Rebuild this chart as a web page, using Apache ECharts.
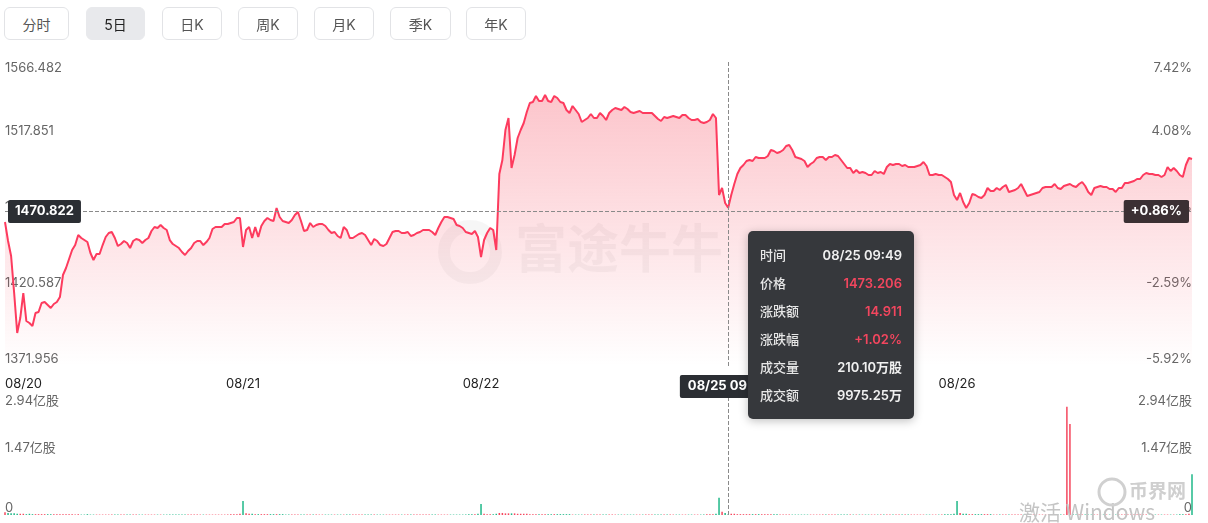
<!DOCTYPE html>
<html><head><meta charset="utf-8">
<script src="https://cdn.jsdelivr.net/npm/echarts@6/dist/echarts.min.js"></script>
<style>
html,body{margin:0;padding:0;background:#fff;width:1208px;height:523px;overflow:hidden;font-family:Inter,'Noto Sans CJK SC',sans-serif;}
#chart{position:absolute;left:0;top:0;width:1208px;height:523px;}
.tab{position:absolute;top:7px;height:33px;box-sizing:border-box;border:1px solid #e2e3e6;border-radius:6px;background:#fff;font-size:14px;color:#555;display:flex;align-items:center;justify-content:center;z-index:5;font-family:Inter,'Noto Sans CJK SC',sans-serif;}
.tab.active{background:#e8e9ec;border-color:#e8e9ec;color:#222;}
</style></head>
<body>
<div id="chart"></div>
<div id="tabs"></div>
<script>
// ---------- data ----------
const tabLabels = ['分时','5日','日K','周K','月K','季K','年K'];
const days = ['08/20','08/21','08/22','08/25','08/26'];
const prevClose = 1458.295;
const leftTicks = [1371.956, 1420.587, 1469.220, 1517.851, 1566.482];
const volTicks = [0, 1.47, 2.94];

const p0820 = [1464.09,1451.93,1442.34,1418.66,1393.10,1402.66,1418.66,1400.74,1399.46,1397.54,
1405.86,1406.50,1412.26,1412.90,1410.98,1409.06,1411.62,1412.90,1416.10,1430.18,
1434.66,1440.42,1446.17,1449.37,1455.77,1453.85,1452.57,1451.29,1444.26,1439.78,
1443.62,1443.62,1449.37,1454.49,1457.05,1457.69,1453.85,1448.73,1450.01,1451.93,
1450.65,1447.45,1451.93,1453.21,1452.57,1450.65,1452.57,1453.85,1458.33,1460.89,
1460.25,1462.17,1460.25,1458.97,1452.57,1450.01,1448.73,1447.45,1444.90,1442.98,
1445.54,1447.45,1450.65,1451.93,1451.93,1449.37,1451.29,1453.85,1459.61,1460.89,
1460.89,1460.89,1462.81,1462.81,1463.45,1464.09,1466.65,1466.65];
const p0821 = [1448.09,1458.97,1460.89,1453.85,1460.89,1454.49,1461.53,1464.73,1466.65,1465.37,
1464.73,1473.05,1467.29,1464.73,1464.09,1463.45,1465.37,1468.57,1470.49,1464.73,
1458.33,1458.97,1463.45,1460.89,1462.17,1462.81,1462.81,1461.53,1458.97,1457.05,
1457.69,1455.13,1453.85,1460.89,1458.97,1453.85,1453.85,1455.13,1456.41,1457.05,
1455.77,1452.57,1449.37,1453.21,1451.93,1449.37,1448.73,1450.01,1453.85,1457.69,
1458.33,1458.33,1457.05,1457.05,1457.69,1455.13,1455.77,1457.05,1457.69,1458.97,
1458.97,1458.97,1457.69,1455.77,1460.25,1464.09,1467.29,1467.29,1466.65,1466.01,
1462.17,1461.53,1460.25,1457.69,1457.05,1456.41,1458.33,1454.49];
const p0822 = [1441.70,1452.57,1457.05,1460.25,1458.97,1446.17,1494.81,1503.77,1522.96,1530.64,
1498.65,1506.97,1517.84,1522.96,1527.44,1534.48,1540.24,1540.88,1544.72,1541.52,
1541.52,1545.36,1541.52,1540.88,1544.72,1543.44,1540.88,1540.24,1535.76,1533.84,
1538.32,1535.76,1533.20,1528.08,1529.36,1530.64,1533.20,1530.64,1530.64,1533.84,
1531.92,1529.36,1533.84,1535.76,1537.04,1536.40,1535.76,1537.68,1536.40,1534.48,
1533.84,1534.48,1535.12,1533.84,1533.84,1533.84,1533.84,1531.92,1530.00,1528.72,
1531.28,1530.64,1531.28,1531.92,1531.28,1530.64,1532.56,1532.56,1530.64,1529.36,
1529.36,1530.00,1528.08,1527.44,1528.08,1529.36,1533.20,1530.64];
const p0825 = [1481.37,1485.85,1476.25,1473.206,1481.37,1488.41,1494.81,1498.65,1500.57,1503.13,
1503.77,1503.13,1505.69,1505.05,1505.05,1505.05,1506.33,1510.16,1509.53,1508.25,
1508.89,1510.16,1512.72,1513.36,1510.16,1505.69,1505.05,1504.41,1503.13,1499.29,
1501.21,1502.49,1505.05,1505.69,1505.69,1503.77,1505.69,1505.69,1506.97,1506.33,
1503.77,1501.21,1498.65,1498.65,1495.45,1497.37,1495.45,1496.09,1495.45,1494.17,
1494.17,1496.73,1495.45,1496.09,1494.81,1499.29,1501.21,1500.57,1501.21,1501.21,
1499.93,1500.57,1499.29,1499.29,1499.29,1499.93,1500.57,1502.49,1499.93,1494.17,
1494.17,1494.81,1494.17,1494.17,1492.89,1491.61,1489.69,1481.37];
const p0826 = [1478.17,1482.65,1476.89,1473.05,1476.25,1482.01,1481.37,1480.09,1479.45,1481.37,
1485.85,1483.93,1483.93,1485.85,1484.57,1486.49,1487.77,1483.29,1483.93,1484.57,
1485.85,1488.41,1484.57,1480.73,1481.37,1482.01,1482.65,1483.29,1485.85,1486.49,
1486.49,1486.49,1488.41,1485.85,1485.21,1487.13,1487.77,1488.41,1487.13,1486.49,
1488.41,1489.69,1487.13,1483.29,1481.37,1485.85,1486.49,1487.13,1486.49,1486.49,
1485.21,1485.21,1483.29,1485.85,1485.85,1489.05,1489.05,1489.69,1490.33,1491.61,
1491.61,1494.17,1495.45,1494.81,1494.81,1494.17,1494.17,1492.89,1494.17,1499.29,
1496.73,1498.65,1496.73,1494.17,1492.89,1500.57,1505.05,1504.41];

// volume, 亿股
const v0820 = [0.07,0.05,0.04,0.04,0.03,0.03,0.03,0.02,0.03,0.02,
0.02,0.02,0.02,0.02,0.02,0.02,0.02,0.02,0.02,0.02,
0.02,0.02,0.02,0.01,0.02,0.01,0.01,0.02,0.01,0.01,
0.01,0.01,0.01,0.01,0.01,0.01,0.01,0.01,0.01,0.01,
0.01,0.01,0.01,0.01,0.01,0.01,0.01,0.01,0.01,0.01,
0.01,0.01,0.01,0.01,0.01,0.01,0.01,0.01,0.01,0.01,
0.01,0.01,0.01,0.01,0.01,0.01,0.01,0.01,0.01,0.01,
0.01,0.01,0.01,0.01,0.02,0.02,0.02,0.03];
const v0821 = [0.34,0.04,0.03,0.03,0.02,0.02,0.02,0.02,0.02,0.02,
0.02,0.02,0.02,0.02,0.01,0.01,0.01,0.01,0.01,0.01,
0.01,0.01,0.01,0.01,0.01,0.01,0.01,0.01,0.01,0.01,
0.01,0.01,0.01,0.01,0.01,0.01,0.01,0.01,0.01,0.01,
0.01,0.01,0.01,0.01,0.01,0.01,0.01,0.01,0.01,0.01,
0.01,0.01,0.01,0.01,0.01,0.01,0.01,0.01,0.01,0.01,
0.01,0.01,0.01,0.01,0.01,0.01,0.01,0.01,0.01,0.01,
0.01,0.01,0.01,0.01,0.02,0.02,0.02,0.03];
const v0822 = [0.27,0.03,0.02,0.02,0.02,0.03,0.05,0.05,0.04,0.04,
0.04,0.04,0.03,0.03,0.03,0.03,0.02,0.02,0.02,0.02,
0.02,0.02,0.02,0.02,0.02,0.02,0.02,0.02,0.02,0.02,
0.01,0.01,0.01,0.01,0.01,0.01,0.01,0.01,0.01,0.01,
0.01,0.01,0.01,0.01,0.01,0.01,0.01,0.01,0.01,0.01,
0.01,0.01,0.01,0.01,0.01,0.01,0.01,0.01,0.01,0.01,
0.01,0.01,0.01,0.01,0.01,0.01,0.01,0.01,0.01,0.01,
0.01,0.01,0.01,0.01,0.02,0.02,0.02,0.03];
const v0825 = [0.42,0.08,0.05,0.02101,0.03,0.03,0.02,0.02,0.02,0.02,
0.02,0.02,0.02,0.02,0.02,0.02,0.02,0.02,0.02,0.02,
0.01,0.01,0.01,0.01,0.01,0.01,0.01,0.01,0.01,0.01,
0.01,0.01,0.01,0.01,0.01,0.01,0.01,0.01,0.01,0.01,
0.01,0.01,0.01,0.01,0.01,0.01,0.01,0.01,0.01,0.01,
0.01,0.01,0.01,0.01,0.01,0.01,0.01,0.01,0.01,0.01,
0.01,0.01,0.01,0.01,0.01,0.01,0.01,0.01,0.01,0.01,
0.01,0.01,0.01,0.01,0.02,0.02,0.02,0.03];
const v0826 = [0.34,0.05,0.03,0.03,0.02,0.02,0.02,0.02,0.02,0.02,
0.02,0.02,0.01,0.01,0.01,0.01,0.01,0.01,0.01,0.01,
0.01,0.01,0.01,0.01,0.01,0.01,0.01,0.01,0.01,0.01,
0.01,0.01,0.01,0.01,0.01,0.01,2.65,2.23,0.02,0.01,
0.01,0.01,0.01,0.01,0.01,0.01,0.01,0.01,0.01,0.01,
0.01,0.01,0.01,0.01,0.01,0.01,0.01,0.01,0.01,0.01,
0.01,0.01,0.01,0.01,0.01,0.01,0.01,0.01,0.01,0.01,
0.01,0.01,0.01,0.02,0.02,0.02,0.03,1.00];

const hoverIndex = 237;            // 08/25 09:49
const hoverTurnover = '9975.25万';

// ---------- build ----------
const sessionTimes = [];
for (let m = 9*60+34; m <= 15*60+59; m += 5) {
  sessionTimes.push(String(Math.floor(m/60)).padStart(2,'0') + ':' + String(m%60).padStart(2,'0'));
}
const categories = [];
days.forEach(d => sessionTimes.forEach(t => categories.push(d + ' ' + t)));
const prices = [].concat(p0820, p0821, p0822, p0825, p0826);
const volumes = [].concat(v0820, v0821, v0822, v0825, v0826);
const perDay = sessionTimes.length;

const UP = '#f5475e', DOWN = '#1fb888';
const volData = volumes.map((v, i) => ({
  value: v,
  itemStyle: { color: (i === 0 || prices[i] >= prices[i-1]) ? UP : DOWN }
}));

const pct = v => (v / prevClose - 1) * 100;
const FONT = "Inter, 'Noto Sans CJK SC', sans-serif";

// tabs
const tabLeft = [4, 86, 162, 238, 314, 390, 466];
const tabWidth = [65, 59, 60, 60, 60, 61, 60];
const tabsEl = document.getElementById('tabs');
tabLabels.forEach((t, i) => {
  const d = document.createElement('div');
  d.className = 'tab' + (i === 1 ? ' active' : '');
  d.style.left = tabLeft[i] + 'px';
  d.style.width = tabWidth[i] + 'px';
  d.textContent = t;
  tabsEl.appendChild(d);
});

const chart = echarts.init(document.getElementById('chart'), null, {renderer: 'canvas'});

const baseY = {
  type: 'value', splitLine: {show: false}, axisLine: {show: false}, axisTick: {show: false}
};
const lblBase = {inside: true, margin: 0, color: '#666', fontSize: 13, fontFamily: FONT};
const pMin = leftTicks[0], pMax = leftTicks[leftTicks.length-1];
const ptrLabel = {backgroundColor: '#2b2e33', color: '#fff', fontSize: 13, fontWeight: 'bold', fontFamily: FONT, padding: [5, 7], borderRadius: 2, margin: 3};

const option = {
  animation: false,
  textStyle: {fontFamily: FONT},
  grid: [
    {left: 5, right: 16, top: 62, height: 304},
    {left: 5, right: 16, top: 395, height: 120}
  ],
  axisPointer: {link: [{xAxisIndex: 'all'}]},
  tooltip: {
    trigger: 'axis',
    axisPointer: {
      type: 'cross',
      lineStyle: {color: '#8a8a8a', type: 'dashed', width: 1},
      crossStyle: {color: '#8a8a8a', type: 'dashed', width: 1}
    },
    position: [748, 231],
    alwaysShowContent: true,
    transitionDuration: 0,
    backgroundColor: '#36383c',
    borderWidth: 0,
    padding: [10, 12],
    extraCssText: 'border-radius:5px;box-shadow:0 2px 10px rgba(0,0,0,0.25);',
    formatter: (params) => {
      const i = params[0].dataIndex;
      const p = prices[i], chg = p - prevClose, pc = chg / prevClose * 100;
      const red = '#f2465e', grn = '#1fb888';
      const c = chg >= 0 ? red : grn;
      const row = (k, v, col) => '<div style="display:flex;justify-content:space-between;height:28px;line-height:28px;font-size:13px;font-family:' + FONT.replace(/"/g,'') + ';">' +
        '<span style="color:#e6e6e6;font-weight:500">' + k + '</span><span style="color:' + col + ';font-weight:600">' + v + '</span></div>';
      return '<div style="width:142px">' +
        row('时间', categories[i], '#f0f0f0') +
        row('价格', p.toFixed(3), c) +
        row('涨跌额', chg.toFixed(3), c) +
        row('涨跌幅', (pc >= 0 ? '+' : '') + pc.toFixed(2) + '%', c) +
        row('成交量', (volumes[i] * 10000).toFixed(2) + '万股', '#f0f0f0') +
        row('成交额', i === hoverIndex ? hoverTurnover : '--', '#f0f0f0') +
        '</div>';
    }
  },
  xAxis: [
    {
      type: 'category', gridIndex: 0, data: categories, boundaryGap: false,
      axisLine: {show: false}, axisTick: {show: false}, splitLine: {show: false},
      axisLabel: {
        interval: (i) => i % perDay === 0,
        formatter: (v) => v.slice(0, 5),
        color: '#222', fontSize: 13, margin: 12, fontFamily: FONT,
        alignMinLabel: 'left'
      },
      axisPointer: {label: Object.assign({}, ptrLabel, {margin: 9, padding: [5, 8]})}
    },
    {
      type: 'category', gridIndex: 1, data: categories, boundaryGap: false,
      axisLine: {show: false}, axisTick: {show: false}, splitLine: {show: false},
      axisLabel: {show: false},
      axisPointer: {label: {formatter: () => '', backgroundColor: 'transparent', color: 'transparent', padding: 0}}
    }
  ],
  yAxis: [
    Object.assign({}, baseY, {
      gridIndex: 0, position: 'left', min: pMin, max: pMax,
      axisLabel: Object.assign({}, lblBase, {align: 'left', verticalAlign: 'bottom',
        customValues: leftTicks.slice(0, -1), formatter: v => v.toFixed(3)}),
      axisPointer: {label: Object.assign({}, ptrLabel, {formatter: p => Number(p.value).toFixed(3)})}
    }),
    Object.assign({}, baseY, {
      gridIndex: 0, position: 'left', min: pMin, max: pMax,
      axisLabel: Object.assign({}, lblBase, {align: 'left', verticalAlign: 'top',
        customValues: [pMax], formatter: v => v.toFixed(3)}),
      axisPointer: {show: false}
    }),
    Object.assign({}, baseY, {
      gridIndex: 0, position: 'right', min: pct(pMin), max: pct(pMax),
      axisLabel: Object.assign({}, lblBase, {align: 'right', verticalAlign: 'bottom',
        customValues: leftTicks.slice(0, -1).map(pct), formatter: v => v.toFixed(2) + '%'}),
      axisPointer: {label: Object.assign({}, ptrLabel, {backgroundColor: '#3b3033',
        formatter: p => { const v = Number(p.value); return (v >= 0 ? '+' : '') + v.toFixed(2) + '%'; }})}
    }),
    Object.assign({}, baseY, {
      gridIndex: 0, position: 'right', min: pct(pMin), max: pct(pMax),
      axisLabel: Object.assign({}, lblBase, {align: 'right', verticalAlign: 'top',
        customValues: [pct(pMax)], formatter: v => v.toFixed(2) + '%'}),
      axisPointer: {show: false}
    }),
    Object.assign({}, baseY, {
      gridIndex: 1, position: 'left', min: 0, max: volTicks[2],
      axisLabel: Object.assign({}, lblBase, {align: 'left', verticalAlign: 'bottom',
        customValues: volTicks.slice(0, 2), formatter: v => v === 0 ? '0' : v.toFixed(2) + '亿股'}),
      axisPointer: {show: false}
    }),
    Object.assign({}, baseY, {
      gridIndex: 1, position: 'left', min: 0, max: volTicks[2],
      axisLabel: Object.assign({}, lblBase, {align: 'left', verticalAlign: 'top',
        customValues: [volTicks[2]], formatter: v => v.toFixed(2) + '亿股'}),
      axisPointer: {show: false}
    }),
    Object.assign({}, baseY, {
      gridIndex: 1, position: 'right', min: 0, max: volTicks[2],
      axisLabel: Object.assign({}, lblBase, {align: 'right', verticalAlign: 'bottom',
        customValues: volTicks.slice(0, 2), formatter: v => v === 0 ? '0' : v.toFixed(2) + '亿股'}),
      axisPointer: {show: false}
    }),
    Object.assign({}, baseY, {
      gridIndex: 1, position: 'right', min: 0, max: volTicks[2],
      axisLabel: Object.assign({}, lblBase, {align: 'right', verticalAlign: 'top',
        customValues: [volTicks[2]], formatter: v => v.toFixed(2) + '亿股'}),
      axisPointer: {show: false}
    })
  ],
  graphic: [
    {type: 'text', left: 515, top: 222, z: 0, silent: true,
      style: {text: '富途牛牛', fontSize: 52, fontWeight: 'bold', fill: 'rgba(0,0,0,0.04)', fontFamily: "'Noto Sans CJK SC'"}},
    {type: 'circle', z: 0, silent: true, shape: {cx: 470, cy: 252, r: 26},
      style: {fill: 'none', stroke: 'rgba(0,0,0,0.035)', lineWidth: 12}},
    {type: 'text', left: 1019, top: 502, z: 100, silent: true,
      style: {text: '激活 Windows', fontSize: 21, fill: '#c4c4c4', fontFamily: "'Noto Sans CJK SC'"}},
    {type: 'circle', z: 100, silent: true, shape: {cx: 1112, cy: 492, r: 13},
      style: {fill: 'none', stroke: '#d0d0d0', lineWidth: 3}},
    {type: 'text', left: 1129, top: 481, z: 100, silent: true,
      style: {text: '币界网', fontSize: 19, fontWeight: 'bold', fill: '#cfcfcf', fontFamily: "'Noto Sans CJK SC'"}}
  ],
  series: [
    {
      type: 'line', name: '价格', xAxisIndex: 0, yAxisIndex: 0, data: prices,
      symbol: 'none', smooth: false, z: 3,
      lineStyle: {color: '#fd3b5e', width: 2},
      areaStyle: {color: new echarts.graphic.LinearGradient(0, 0, 0, 1, [
        {offset: 0, color: 'rgba(246,72,92,0.45)'},
        {offset: 1, color: 'rgba(246,72,92,0.0)'}
      ])},
      emphasis: {disabled: true}
    },
    {
      type: 'bar', name: '成交量', xAxisIndex: 1, yAxisIndex: 4, data: volData,
      barWidth: 1.5, emphasis: {disabled: true}
    }
  ]
};
chart.setOption(option);
chart.dispatchAction({type: 'showTip', x: 728, y: 211.495});
</script>
</body></html>
